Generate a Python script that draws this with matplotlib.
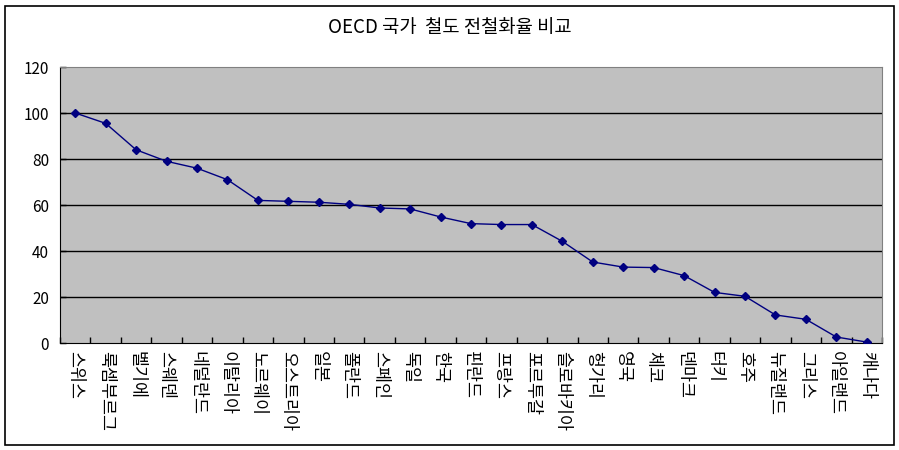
import matplotlib.pyplot as plt
import matplotlib.patches as mpatches
import numpy as np

plt.rcParams['font.family'] = ['Noto Sans CJK KR', 'DejaVu Sans']

countries = ['스위스', '룩셈부르그', '벨기에', '스웨덴', '네덜란드', '이탈리아', '노르웨이',
             '오스트리아', '일본', '폴란드', '스페인', '독일', '한국', '핀란드', '프랑스',
             '포르투갈', '슬로바키아', '헝가리', '영국', '체코', '덴마크', '터키', '호주',
             '뉴질랜드', '그리스', '아일랜드', '캐나다']
rates = [100, 95.5, 84, 79, 76, 71, 62, 61.6, 61.2, 60.3, 58.7, 58.3, 54.8, 51.9, 51.5,
         51.5, 44.2, 35.2, 33, 32.8, 29.3, 22, 20.3, 12.2, 10.3, 2.6, 0.4]
yticks = [0, 20, 40, 60, 80, 100, 120]

fig = plt.figure(figsize=(8.99, 4.5), dpi=100)
ax = fig.add_axes([60 / 899, 1 - 343 / 450, 822 / 899, 276 / 450])

x = np.arange(len(countries))
ax.set_facecolor('#C0C0C0')
ax.plot(x, rates, color='#000080', linewidth=1, marker='D', markersize=4.5,
        markerfacecolor='#000080', markeredgecolor='#000080', zorder=3)

ax.set_xlim(-0.5, len(countries) - 0.5)
ax.set_ylim(0, 120)
ax.set_yticks(yticks)
ax.set_yticklabels([str(v) for v in yticks], fontsize=11)
for v in yticks[1:-1]:
    ax.axhline(v, color='black', linewidth=1, zorder=1)

ax.set_xticks(x)
ax.set_xticklabels(countries, rotation=-90, fontsize=12.5, va='top', ha='center')
ax.set_xticks(np.arange(-0.5, len(countries)), minor=True)
ax.tick_params(axis='x', which='major', length=0, pad=6)
ax.tick_params(axis='x', which='minor', direction='in', length=4, width=1)
ax.tick_params(axis='y', direction='in', length=4, width=1, pad=8)

for side in ['top', 'right']:
    ax.spines[side].set_color('#808080')
for side in ['left', 'bottom']:
    ax.spines[side].set_color('black')

fig.text(0.5, 1 - 27 / 450, 'OECD 국가  철도 전철화율 비교', ha='center', va='center', fontsize=13.5)

fig.patches.append(mpatches.Rectangle((5 / 899, 5 / 450), 889 / 899, 439 / 450,
                                      transform=fig.transFigure, fill=False,
                                      edgecolor='black', linewidth=1.2))

fig.savefig('out.png', dpi=100)
